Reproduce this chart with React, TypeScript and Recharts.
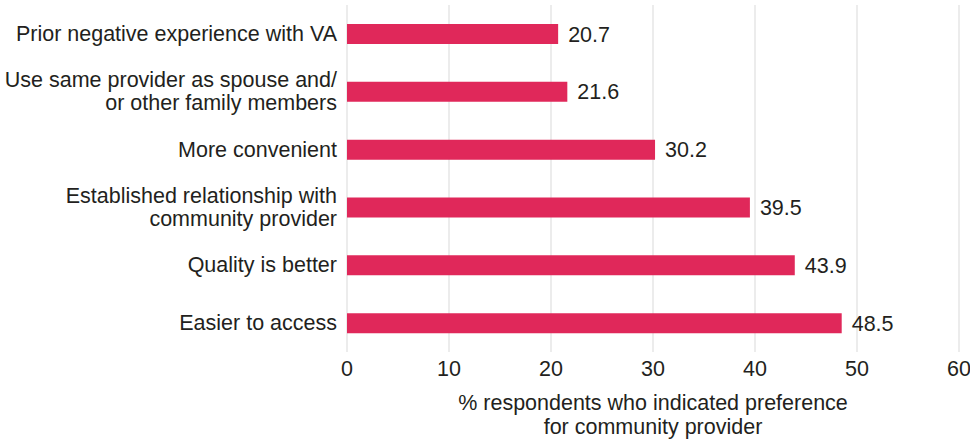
import { BarChart, Bar, XAxis, YAxis, CartesianGrid, LabelList } from 'recharts';

const reasons = [
	['Prior negative experience with VA'],
	['Use same provider as spouse and/', 'or other family members'],
	['More convenient'],
	['Established relationship with', 'community provider'],
	['Quality is better'],
	['Easier to access'],
];
const shares = [20.7, 21.6, 30.2, 39.5, 43.9, 48.5];
const xTicks = [0, 10, 20, 30, 40, 50, 60];
const axisTitle = ['% respondents who indicated preference', 'for community provider'];

const data = reasons.map((lines, i) => ({ name: lines.join('\n'), value: shares[i] }));

const FONT = 'Liberation Sans, Arial, Helvetica, sans-serif';
const INK = '#231f20';
const FS = 21.5;

function ReasonTick({ x, y, payload }: any) {
	const lines = String(payload.value).split('\n');
	const lh = 23;
	const start = -((lines.length - 1) * lh) / 2;
	return (
		<text x={x} y={y} textAnchor="end" fill={INK} fontSize={FS} fontFamily={FONT}>
			{lines.map((l, i) => (
				<tspan key={i} x={x} dy={i === 0 ? start + 7 : lh}>
					{l}
				</tspan>
			))}
		</text>
	);
}

function AxisTitle({ viewBox }: any) {
	const cx = viewBox.x + viewBox.width / 2;
	return (
		<text x={cx} y={viewBox.y + 58} textAnchor="middle" fill={INK} fontSize={FS} fontFamily={FONT}>
			{axisTitle.map((l, i) => (
				<tspan key={i} x={cx} dy={i === 0 ? 0 : 24}>
					{l}
				</tspan>
			))}
		</text>
	);
}

export default function App() {
	return (
		<div style={{ position: 'absolute', left: 0, top: 0, background: '#fff' }}>
			<BarChart
				width={970}
				height={442}
				data={data}
				layout="vertical"
				barCategoryGap={0}
				margin={{ top: 5, right: 11, left: 0, bottom: 0 }}>
				<CartesianGrid horizontal={false} stroke="#d9d9d9" />
				<XAxis
					type="number"
					domain={[0, 60]}
					ticks={xTicks}
					axisLine={false}
					tickLine={false}
					tickSize={0}
					tickMargin={9}
					height={90}
					tick={{ fill: INK, fontSize: FS, fontFamily: FONT }}
					label={<AxisTitle />}
				/>
				<YAxis
					type="category"
					dataKey="name"
					width={347}
					axisLine={false}
					tickLine={false}
					tickSize={0}
					tickMargin={10}
					interval={0}
					tick={<ReasonTick />}
				/>
				<Bar dataKey="value" fill="#e0285a" barSize={20} isAnimationActive={false}>
					<LabelList
						dataKey="value"
						position="right"
						offset={10}
						fill={INK}
						fontSize={FS}
						fontFamily={FONT}
						formatter={(v: any) => Number(v).toFixed(1)}
					/>
				</Bar>
			</BarChart>
		</div>
	);
}
